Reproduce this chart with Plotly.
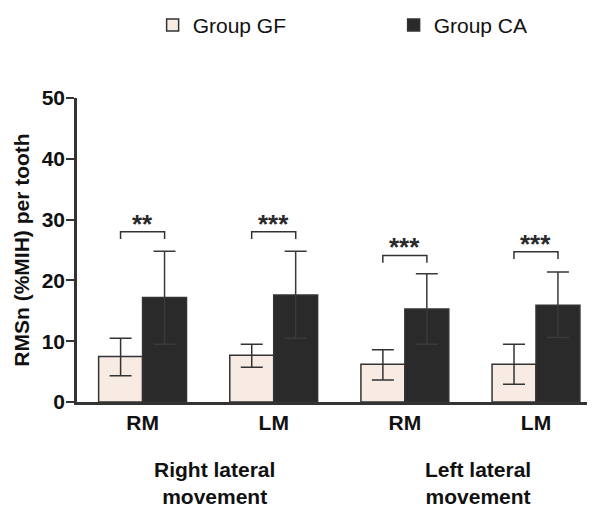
import plotly.graph_objects as go

categories = ["RM", "LM", "RM", "LM"]
group_labels = ["Right lateral<br>movement", "Left lateral<br>movement"]
gf_mean = [7.5, 7.7, 6.2, 6.2]
gf_err_plus = [3.0, 1.8, 2.4, 3.3]
gf_err_minus = [3.2, 2.0, 2.6, 3.3]
ca_mean = [17.2, 17.6, 15.3, 15.9]
ca_err_plus = [7.6, 7.2, 5.8, 5.5]
ca_err_minus = [7.7, 7.1, 5.8, 5.3]
sig_y = [28.0, 28.0, 24.1, 24.7]
sig_text = ["**", "***", "***", "***"]

x = list(range(len(categories)))
FONT = "Liberation Sans, Arial, sans-serif"
DARK = "#2a2a2a"
LINE = "#333333"
TXT = "#111111"
FS = 21

fig = go.Figure()
fig.add_trace(go.Bar(
    x=x, y=gf_mean, name="Group GF",
    marker=dict(color="#f8ebe4", line=dict(color=LINE, width=1.5)),
    error_y=dict(type="data", array=gf_err_plus, arrayminus=gf_err_minus,
                 color=LINE, thickness=1.5, width=11),
))
fig.add_trace(go.Bar(
    x=x, y=ca_mean, name="Group CA",
    marker=dict(color=DARK, line=dict(color=LINE, width=1.5)),
    error_y=dict(type="data", array=ca_err_plus, arrayminus=ca_err_minus,
                 color="#3a3a3a", thickness=1.5, width=11),
))

off = 0.168
drop = 1.2
for i, (yv, t) in enumerate(zip(sig_y, sig_text)):
    fig.add_trace(go.Scatter(
        x=[i - off, i - off, i + off, i + off],
        y=[yv - drop, yv, yv, yv - drop],
        mode="lines", line=dict(color=LINE, width=1.5),
        showlegend=False, hoverinfo="skip",
    ))
    fig.add_annotation(x=i, y=yv, text=t, showarrow=False,
                       yanchor="middle", yshift=8,
                       font=dict(family=FONT, size=26, color=DARK, weight="bold"))

for gx, lab in zip([0.545, 2.558], group_labels):
    fig.add_annotation(x=gx, xref="x", y=-0.178, yref="paper", text=lab,
                       showarrow=False, yanchor="top",
                       font=dict(family=FONT, size=FS, color=TXT, weight="bold"))

fig.update_layout(
    width=595, height=508,
    margin=dict(l=69, r=8, t=90, b=114, autoexpand=False),
    paper_bgcolor="white", plot_bgcolor="white",
    barmode="group", bargap=0.33, bargroupgap=0,
    font=dict(family=FONT, color=TXT),
    showlegend=True,
    legend=dict(orientation="h", x=0.146, y=1.239, xanchor="left", yanchor="middle",
                font=dict(family=FONT, size=FS, color=TXT),
                entrywidth=196, entrywidthmode="pixels", traceorder="normal"),
    xaxis=dict(range=[-0.5, 3.45], tickvals=x, ticktext=categories,
               showline=True, linecolor=LINE, linewidth=2.5, ticks="", showgrid=False,
               zeroline=False, tickfont=dict(family=FONT, size=FS, color=TXT, weight="bold"),
               fixedrange=True),
    yaxis=dict(range=[0, 50], tickvals=[0, 10, 20, 30, 40, 50],
               showline=True, linecolor=LINE, linewidth=2.5, ticks="outside",
               ticklen=8, tickwidth=2, tickcolor=LINE, showgrid=False, zeroline=False,
               ticklabelstandoff=-3,
               tickfont=dict(family=FONT, size=FS, color=TXT, weight="bold"),
               title=dict(text="RMSn (%MIH) per tooth", standoff=7,
                          font=dict(family=FONT, size=FS, color=TXT, weight="bold"))),
)

fig.write_html("out.html")
